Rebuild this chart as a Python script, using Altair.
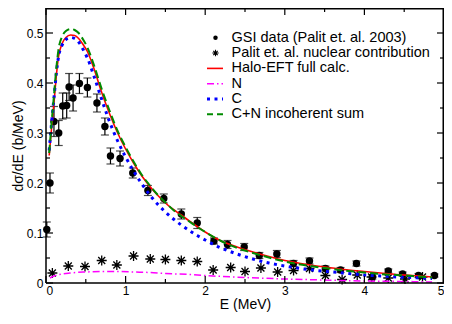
import altair as alt
import pandas as pd

# ---------------- data ----------------
gsi_x = [0.01, 0.05, 0.10, 0.16, 0.21, 0.26, 0.29, 0.34, 0.42, 0.52,
         0.64, 0.74, 0.81, 0.93, 1.09, 1.28, 1.48, 1.70, 1.90, 2.11,
         2.28, 2.49, 2.68, 2.90, 3.11, 3.31, 3.51, 3.70, 3.90, 4.10,
         4.30, 4.48, 4.68, 4.88]
gsi_y = [0.107, 0.200, 0.323, 0.300, 0.354, 0.355, 0.392, 0.370, 0.399, 0.391,
         0.360, 0.313, 0.254, 0.249, 0.220, 0.185, 0.169, 0.138, 0.120, 0.084,
         0.077, 0.072, 0.055, 0.058, 0.039, 0.044, 0.029, 0.026, 0.039, 0.012,
         0.024, 0.018, 0.015, 0.015]
gsi_err = [0.015, 0.020, 0.030, 0.025, 0.026, 0.025, 0.027, 0.026, 0.020, 0.019,
           0.018, 0.017, 0.016, 0.015, 0.010, 0.010, 0.009, 0.010, 0.011, 0.006,
           0.008, 0.007, 0.006, 0.007, 0.006, 0.006, 0.005, 0.005, 0.005, 0.004,
           0.004, 0.004, 0.004, 0.003]

nuc_x = [0.08, 0.28, 0.49, 0.70, 0.89, 1.10, 1.31, 1.50, 1.70, 1.90, 2.10, 2.32,
         2.50, 2.70, 2.91, 3.11, 3.31, 3.51, 3.72, 3.91, 4.09, 4.30, 4.51, 4.73]
nuc_y = [0.020, 0.034, 0.033, 0.045, 0.036, 0.054, 0.048, 0.047, 0.045, 0.043, 0.026, 0.031,
         0.023, 0.030, 0.022, 0.025, 0.029, 0.015, 0.007, 0.016, 0.012, 0.010, 0.008, 0.012]

curve_x = [0.04, 0.07, 0.10, 0.13, 0.16, 0.20, 0.25, 0.31, 0.36, 0.41, 0.47, 0.52,
           0.6, 0.7, 0.8, 0.9, 1.0, 1.1, 1.2, 1.3, 1.4, 1.5, 1.6, 1.7, 1.8, 1.9, 2.0,
           2.2, 2.4, 2.6, 2.8, 3.0, 3.2, 3.4, 3.6, 3.8, 4.0, 4.2, 4.4, 4.6, 4.85]
full_y = [0.255, 0.31, 0.36, 0.415, 0.455, 0.478, 0.491, 0.496, 0.495, 0.489, 0.476, 0.463,
          0.430, 0.381, 0.338, 0.300, 0.268, 0.240, 0.215, 0.194, 0.176, 0.160, 0.147, 0.136,
          0.124, 0.113, 0.102,
          0.084, 0.072, 0.062, 0.053, 0.045, 0.039, 0.034, 0.030, 0.026, 0.023, 0.020, 0.017,
          0.015, 0.012]
c_y = [0.265, 0.32, 0.37, 0.42, 0.455, 0.475, 0.487, 0.491, 0.489, 0.482, 0.466, 0.450,
       0.415, 0.367, 0.322, 0.284, 0.252, 0.224, 0.199, 0.177, 0.158, 0.142, 0.128, 0.116,
       0.105, 0.095, 0.086,
       0.070, 0.058, 0.048, 0.040, 0.034, 0.029, 0.025, 0.022, 0.019, 0.016, 0.014, 0.012,
       0.011, 0.009]
cn_y = [0.26, 0.32, 0.375, 0.43, 0.47, 0.492, 0.504, 0.508, 0.506, 0.500, 0.486, 0.471,
        0.437, 0.388, 0.344, 0.304, 0.272, 0.243, 0.217, 0.196, 0.177, 0.161, 0.146, 0.134,
        0.123, 0.112, 0.102,
        0.084, 0.070, 0.060, 0.051, 0.043, 0.037, 0.032, 0.028, 0.024, 0.021, 0.018, 0.016,
        0.014, 0.011]

n_x = [0.05, 0.1, 0.2, 0.3, 0.5, 0.7, 0.9, 1.1, 1.3, 1.5, 1.8, 2.1, 2.5, 3.0, 3.5, 4.0, 4.5, 4.85]
n_y = [0.010, 0.014, 0.018, 0.020, 0.022, 0.023, 0.023, 0.022, 0.021, 0.019, 0.017, 0.014,
       0.011, 0.008, 0.006, 0.004, 0.003, 0.002]

x_major = [0, 1, 2, 3, 4, 5]
x_minor = [0.5, 1.5, 2.5, 3.5, 4.5]
y_major = [0, 0.1, 0.2, 0.3, 0.4, 0.5]
y_minor = [0.05, 0.15, 0.25, 0.35, 0.45]

legend_labels = ["GSI data (Palit et. al. 2003)", "Palit et. al. nuclear contribution",
                 "Halo-EFT full calc.", "N", "C", "C+N incoherent sum"]

# ---------------- styling ----------------
W, H = 398, 275
FONT = "Liberation Sans"
RED, MAG, BLUE, GREEN = "#ff0000", "#ff00ff", "#0000ff", "#008b00"
ASTER = "M-1,0L1,0M0,-1L0,1M-0.7,-0.7L0.7,0.7M-0.7,0.7L0.7,-0.7"

xs = alt.Scale(domain=[0, 5], nice=False, zero=False)
ys = alt.Scale(domain=[0, 0.55], nice=False, zero=False)

XAX = alt.Axis(values=x_major, format="d", title="E (MeV)", labelFontSize=12,
               titleFontSize=14, titleFontWeight="normal", labelPadding=2,
               titlePadding=1, domain=False, ticks=False, grid=False, labelFont=FONT, titleFont=FONT)
YAX = alt.Axis(values=y_major, labelExpr="datum.value == 0 ? '0' : format(datum.value, '.1f')",
               title="dσ/dE (b/MeV)", labelFontSize=12, titleFontSize=14,
               titleFontWeight="normal", labelPadding=3, titlePadding=1,
               domain=False, ticks=False, grid=False, labelFont=FONT, titleFont=FONT)


def mx(field):
    return alt.X(f"{field}:Q", scale=xs, axis=XAX)


def my(field):
    return alt.Y(f"{field}:Q", scale=ys, axis=YAX)


gsi = pd.DataFrame({"x": gsi_x, "y": gsi_y, "err": gsi_err})
gsi["lo"] = gsi["y"] - gsi["err"]
gsi["hi"] = gsi["y"] + gsi["err"]
nuc = pd.DataFrame({"x": nuc_x, "y": nuc_y})
curves = pd.DataFrame({"x": curve_x, "full": full_y, "c": c_y, "cn": cn_y})
ncurve = pd.DataFrame({"x": n_x, "y": n_y})

pts = alt.Chart(gsi).mark_point(filled=True, shape="circle", size=55, color="black",
                                opacity=1).encode(x=mx("x"), y=my("y"))
bars = alt.Chart(gsi).mark_rule(color="black", strokeWidth=1.2).encode(
    x=mx("x"), y=my("lo"), y2="hi:Q")
caps_lo = alt.Chart(gsi).mark_tick(color="black", orient="horizontal", size=8,
                                   thickness=1.2).encode(x=mx("x"), y=my("lo"))
caps_hi = alt.Chart(gsi).mark_tick(color="black", orient="horizontal", size=8,
                                   thickness=1.2).encode(x=mx("x"), y=my("hi"))
stars = alt.Chart(nuc).mark_point(shape=ASTER, size=100, color="black", strokeWidth=1.3,
                                  filled=False, opacity=1).encode(x=mx("x"), y=my("y"))


def curve(col, color, dash, width):
    kw = dict(color=color, strokeWidth=width, interpolate="monotone", clip=True, strokeCap="butt")
    if dash:
        kw["strokeDash"] = dash
    return alt.Chart(curves).mark_line(**kw).encode(x=mx("x"), y=my(col))


red = curve("full", RED, None, 1.6)
blue = curve("c", BLUE, [3, 4.5], 3)
green = curve("cn", GREEN, [8, 4], 2)
mag = alt.Chart(ncurve).mark_line(color=MAG, strokeWidth=1.5, strokeDash=[7, 3, 1.5, 3],
                                  interpolate="monotone").encode(x=mx("x"), y=my("y"))


# inward ticks on all four sides
def xticks(vals, length):
    d = pd.DataFrame({"v": vals})
    b = alt.Chart(d).mark_rule(color="black", strokeWidth=1.2).encode(
        x=mx("v"), y=alt.value(H), y2=alt.value(H - length))
    t = alt.Chart(d).mark_rule(color="black", strokeWidth=1.2).encode(
        x=mx("v"), y=alt.value(0), y2=alt.value(length))
    return [b, t]


def yticks(vals, length):
    d = pd.DataFrame({"v": vals})
    l = alt.Chart(d).mark_rule(color="black", strokeWidth=1.2).encode(
        y=my("v"), x=alt.value(0), x2=alt.value(length))
    r = alt.Chart(d).mark_rule(color="black", strokeWidth=1.2).encode(
        y=my("v"), x=alt.value(W), x2=alt.value(W - length))
    return [l, r]


ticks = xticks(x_major, 7) + xticks(x_minor, 4) + yticks(y_major, 7) + yticks(y_minor, 4)

# frame
one = pd.DataFrame({"a": [0]})
frame = [
    alt.Chart(one).mark_rule(color="black", strokeWidth=1.5).encode(x=alt.value(0), x2=alt.value(W), y=alt.value(0.75)),
    alt.Chart(one).mark_rule(color="black", strokeWidth=1.5).encode(x=alt.value(0), x2=alt.value(W), y=alt.value(H)),
    alt.Chart(one).mark_rule(color="black", strokeWidth=1.5).encode(y=alt.value(0), y2=alt.value(H), x=alt.value(0)),
    alt.Chart(one).mark_rule(color="black", strokeWidth=1.5).encode(y=alt.value(0), y2=alt.value(H), x=alt.value(W - 0.75)),
]

# legend (inside plot, top right)
rows = [29.7, 45, 60.4, 75.8, 91, 106.2]
LX_SYM, LX0, LX1, LX_TXT = 169.5, 161, 177, 185.5
leg = []
for lab, ry in zip(legend_labels, rows):
    leg.append(alt.Chart(one).mark_text(align="left", baseline="middle", fontSize=14.5, font=FONT,
                                        color="black").encode(
        x=alt.value(LX_TXT), y=alt.value(ry), text=alt.value(lab)))
leg.append(alt.Chart(one).mark_point(filled=True, shape="circle", size=20, color="black",
                                     opacity=1).encode(x=alt.value(LX_SYM), y=alt.value(rows[0])))
leg.append(alt.Chart(one).mark_point(shape=ASTER, size=40, color="black", strokeWidth=1.1,
                                     opacity=1).encode(x=alt.value(LX_SYM), y=alt.value(rows[1])))
for ry, colr, dash, w in [(rows[2], RED, None, 1.6), (rows[3], MAG, [7, 3, 1.5, 3], 1.5),
                          (rows[4], BLUE, [3, 4.5], 3), (rows[5], GREEN, [6, 4], 2)]:
    kw = dict(color=colr, strokeWidth=w)
    if dash:
        kw["strokeDash"] = dash
    leg.append(alt.Chart(one).mark_rule(**kw).encode(
        x=alt.value(LX0), x2=alt.value(LX1), y=alt.value(ry)))

chart = alt.layer(pts, bars, caps_lo, caps_hi, stars, red, mag, blue, green,
                  *ticks, *frame, *leg).properties(
    width=W, height=H,
    autosize=alt.AutoSizeParams(type="none"),
    padding={"left": 38, "top": 0, "right": 0, "bottom": 29},
).configure_view(strokeWidth=0)

chart.save("out.html", embed_options={"renderer": "svg", "actions": False})
